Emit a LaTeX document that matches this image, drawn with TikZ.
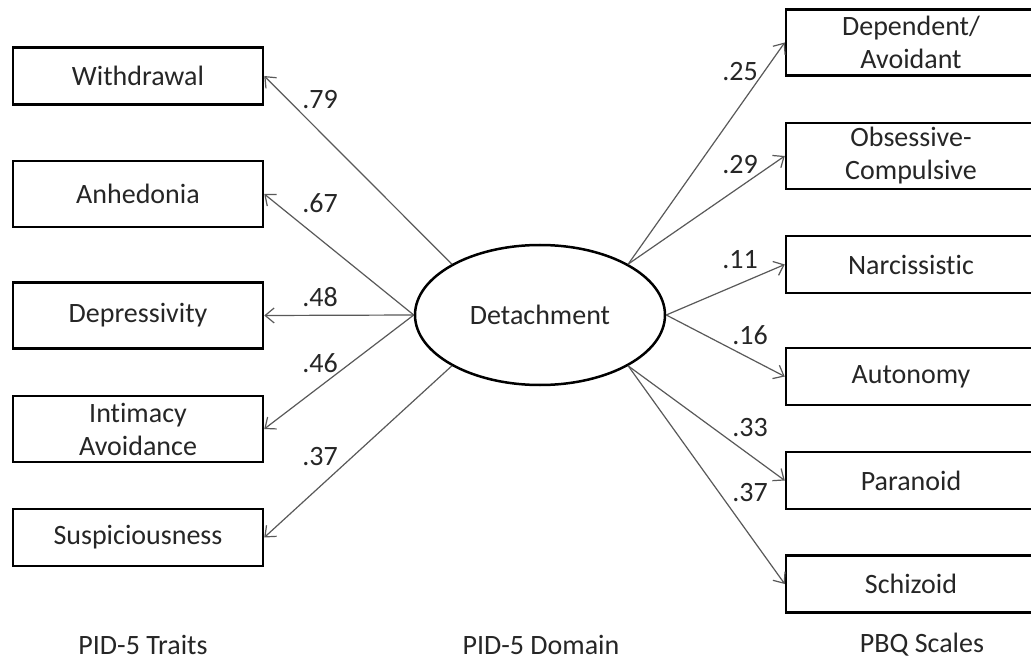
\documentclass[tikz,border=0pt]{standalone}
\usepackage{fontspec}
\setmainfont{Carlito}[Ligatures=NoCommon]
\usepackage{tikz}
\usetikzlibrary{shapes.geometric,arrows.meta}

\begin{document}
\begin{tikzpicture}[x=1pt,y=-1pt,
    every node/.style={font=\fontsize{28}{33}\selectfont, text=black!85},
    box/.style={draw=black, line width=2.5pt, minimum width=250pt, minimum height=57pt, inner sep=0pt, align=center},
    tallbox/.style={box, minimum height=66pt},
    path/.style={draw=black!65, line width=1.2pt, -{Straight Barb[length=9pt,width=15pt,line width=1.2pt]}}]
  \clip (0,0) rectangle (1031,663);
  \fill[white] (0,0) rectangle (1031,663);

  % PID-5 domain
  \node[draw, ellipse, line width=2.5pt, minimum width=250pt, minimum height=140pt, inner sep=0pt] (det) at (540,315) {Detachment};

  % PID-5 traits
  \node[box]     (withdrawal) at (138,76)    {Withdrawal};
  \node[tallbox] (anhedonia)  at (138,194)   {Anhedonia};
  \node[tallbox] (depress)    at (138,315.5) {Depressivity};
  \node[tallbox] (intimacy)   at (138,429)   {Intimacy\\Avoidance};
  \node[box]     (suspic)     at (138,537.5) {Suspiciousness};

  % PBQ scales
  \node[tallbox] (dependent)  at (911,42.5)  {Dependent/\\Avoidant};
  \node[tallbox] (obsessive)  at (911,156)   {Obsessive-\\Compulsive};
  \node[box]     (narciss)    at (911,264.5) {Narcissistic};
  \node[box]     (autonomy)   at (911,376.5) {Autonomy};
  \node[box]     (paranoid)   at (911,480.5) {Paranoid};
  \node[box]     (schizoid)   at (911,584)   {Schizoid};

  % loadings
  \draw[path] (det.150)  -- (withdrawal.east);
  \draw[path] (det.west) -- (anhedonia.east);
  \draw[path] (det.west) -- (depress.east);
  \draw[path] (det.west) -- (intimacy.east);
  \draw[path] (det.210)  -- (suspic.east);
  \draw[path] (det.30)   -- (dependent.west);
  \draw[path] (det.30)   -- (obsessive.west);
  \draw[path] (det.east) -- (narciss.west);
  \draw[path] (det.east) -- (autonomy.west);
  \draw[path] (det.330)  -- (paranoid.west);
  \draw[path] (det.330)  -- (schizoid.west);

  \node (w79) at (320,100) {.79};
  \node (a67) at (320,203) {.67};
  \node (d48) at (320,297) {.48};
  \node (i46) at (320,363) {.46};
  \node (s37) at (320,457) {.37};
  \node (p25) at (740,72)  {.25};
  \node (o29) at (740,165) {.29};
  \node (n11) at (740,260) {.11};
  \node (a16) at (750,335) {.16};
  \node (p33) at (750,428) {.33};
  \node (z37) at (750,493) {.37};

  % column titles
  \node (traits) at (143,645) {PID-5 Traits};
  \node (domain) at (541,645) {PID-5 Domain};
  \node (scales) at (922,645) {PBQ Scales};
\end{tikzpicture}
\end{document}
